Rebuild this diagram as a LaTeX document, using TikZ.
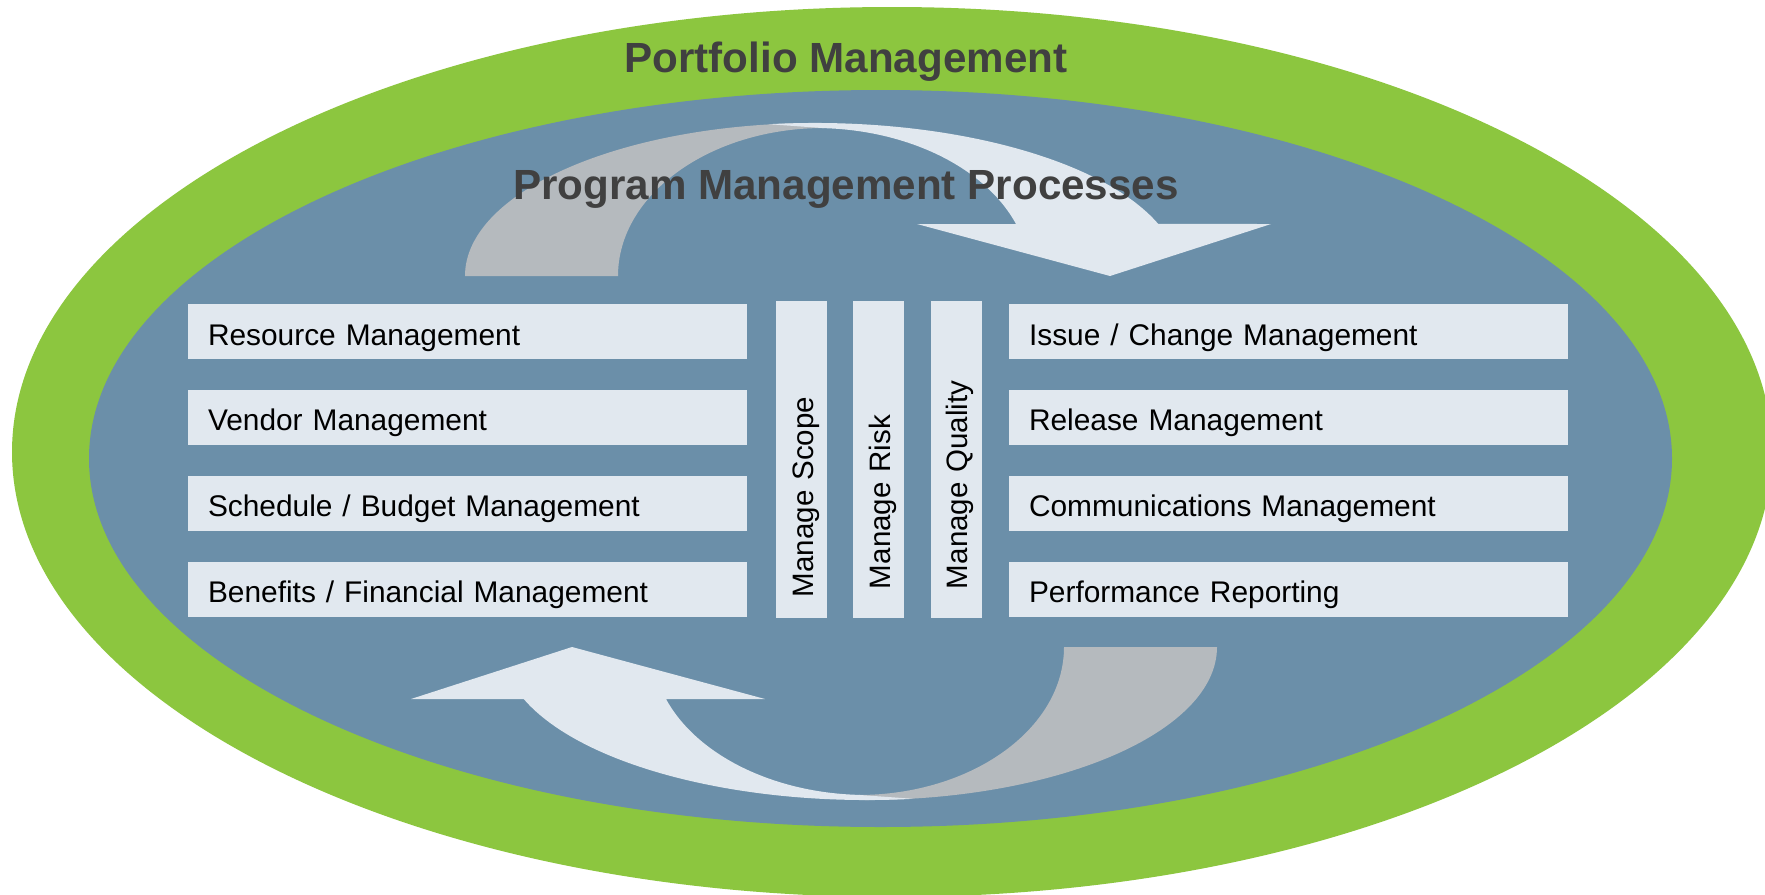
\documentclass[tikz,border=0pt]{standalone}
\usepackage{fontspec}
\setmainfont{Liberation Sans}
\definecolor{portgreen}{HTML}{8CC63F}
\definecolor{progblue}{HTML}{6B8FA9}
\definecolor{paleblue}{HTML}{E1E8EF}
\definecolor{arcgray}{HTML}{B5BABE}
\definecolor{headgray}{HTML}{404040}

\begin{document}
\begin{tikzpicture}[x=0.1mm, y=-0.1mm, hbox/.style={rectangle, fill=paleblue, minimum width=55.9mm, minimum height=5.5mm, inner xsep=2mm, inner ysep=0pt, text width=51.9mm, align=left, text height=8pt, text depth=0.3pt, font=\fontsize{8.5}{10}\selectfont}]
    \tikzset{vbox/.style={rectangle, fill=paleblue, rotate=90, minimum width=31.7mm, minimum height=5.1mm, inner sep=0pt, text width=#1, align=left, text height=6.8pt, text depth=0.26pt, font=\fontsize{8.4}{10}\selectfont},
    %text starts a bit lower in the first bar
    vbox/.default={25.9mm}}
    \tikzset{headline/.style={anchor=base, text=headgray, font=\bfseries\fontsize{12}{14}\selectfont}}
    \fill[white] (0,0) rectangle (1765,894);
    \clip (0,0) rectangle (1765,894);
    % the two rings
    \fill[portgreen] (892,452) ellipse[x radius=880, y radius=445];
    \fill[progblue] (880.5,458.5) ellipse[x radius=791.5, y radius=368.5];
    % cycle arrows, the lower one is the upper one turned round
    \foreach \r in {0,180} {
    \begin{scope}[rotate around={\r:(841,461.5)}]
    \fill[arcgray] (465,276) arc[start angle=180, end angle=270, x radius=352, y radius=153] -- (824,128) arc[start angle=270, end angle=180, x radius=206, y radius=148] -- cycle;
    \fill[paleblue] (769,124.2) arc[start angle=262.76, end angle=340.13, x radius=365, y radius=153] -- (1271,224) -- (1110,276) -- (917,224) -- (1016,224) arc[start angle=339.43, end angle=272.4, x radius=215, y radius=148] -- cycle;
    \end{scope}
    }
    \node[headline] (portfolio) at (846,73) {Portfolio Management};
    \node[headline] (program) at (846,199) {Program Management Processes};
    
    \node[hbox] (res) at (467.5,331.5) {Resource Management};
    \node[hbox] (vendor) at (467.5,417) {Vendor Management};
    \node[hbox] (sched) at (467.5,503) {Schedule / Budget Management};
    \node[hbox] (benefits) at (467.5,589) {Benefits / Financial Management};
    
    \node[hbox] (issue) at (1288.5,331.5) {Issue / Change Management};
    \node[hbox] (release) at (1288.5,417) {Release Management};
    \node[hbox] (comms) at (1288.5,503) {Communications Management};
    \node[hbox] (perf) at (1288.5,589) {Performance Reporting};
    
    \node[vbox=27.5mm] (scope) at (801.5,459.5) {Manage Scope};
    \node[vbox] (risk) at (878.5,459.5) {Manage Risk};
    \node[vbox] (quality) at (956,459.5) {Manage Quality};
\end{tikzpicture}
\end{document}
